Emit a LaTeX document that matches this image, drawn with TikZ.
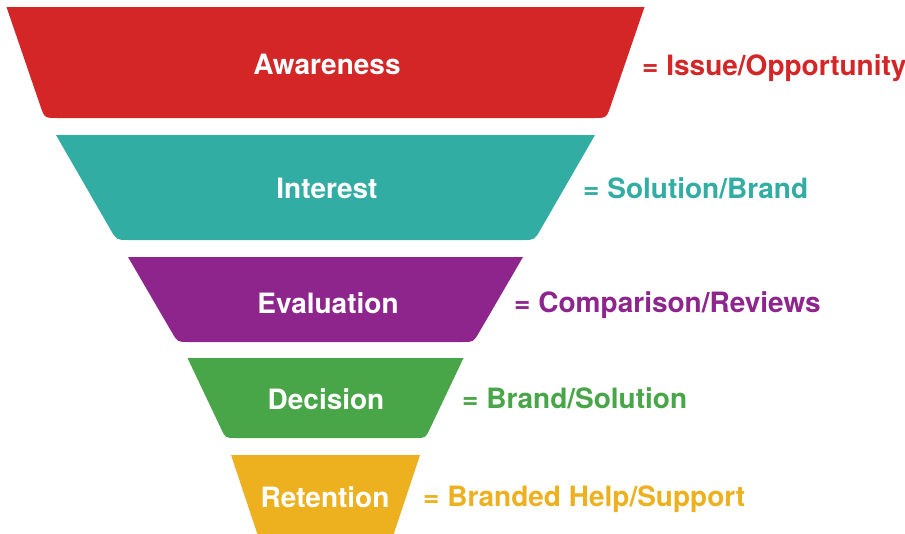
\documentclass[tikz,border=0pt]{standalone}
\usepackage{fontspec}
\setmainfont{TeX Gyre Heros}
\usetikzlibrary{calc}
\definecolor{cRed}{RGB}{212,38,39}
\definecolor{cTeal}{RGB}{50,173,163}
\definecolor{cPurple}{RGB}{142,37,140}
\definecolor{cGreen}{RGB}{73,166,72}
\definecolor{cYellow}{RGB}{237,176,31}
\newcommand\funnelpart[6]{%
  % #1 colour, #2 top y, #3 bottom y, #4 top half width, #5 bottom half width, #6 radius
  \coordinate (tl) at (325.5-#4,#2);
  \coordinate (tr) at (325.5+#4,#2);
  \coordinate (bl) at (325.5-#5,#3);
  \coordinate (br) at (325.5+#5,#3);
  \fill[#1] (tl) -- ($(bl)!#6pt!(tl)$) .. controls (bl) .. ($(bl)!#6pt!(br)$)
    -- ($(br)!#6pt!(bl)$) .. controls (br) .. ($(br)!#6pt!(tr)$) -- (tr) -- cycle;
}
\tikzset{
  stage/.style={font=\bfseries\fontsize{28}{30}\selectfont, text=white, inner sep=0pt, anchor=base},
  meaning/.style={font=\bfseries\fontsize{28}{30}\selectfont, inner sep=0pt, anchor=base west}
}
\begin{document}
\begin{tikzpicture}[x=1pt,y=-1pt]
\useasboundingbox (0,0) rectangle (905,533);
\clip (0,0) rectangle (905,533);
\funnelpart{cRed}{7}{118}{319}{281}{13}
\funnelpart{cTeal}{135}{240}{269.5}{209}{12}
\funnelpart{cPurple}{257}{342}{197.5}{148}{11}
\funnelpart{cGreen}{358}{438}{138}{100}{10}
\fill[cYellow] (325.5-94.5,455) -- (325.5-64.5,545) -- (325.5+64.5,545) -- (325.5+94.5,455) -- cycle;
\node[stage] (s1) at (327,74) {Awareness};
\node[stage] (s2) at (327,198) {Interest};
\node[stage] (s3) at (328,313) {Evaluation};
\node[stage] (s4) at (326,409) {Decision};
\node[stage] (s5) at (325,507) {Retention};
\node[meaning, text=cRed] (m1) at (642,75) {= Issue/Opportunity};
\node[meaning, text=cTeal] (m2) at (583,198) {= Solution/Brand};
\node[meaning, text=cPurple] (m3) at (514,312) {= Comparison/Reviews};
\node[meaning, text=cGreen] (m4) at (462,408) {= Brand/Solution};
\node[meaning, text=cYellow] (m5) at (423,506) {= Branded Help/Support};
\end{tikzpicture}
\end{document}
